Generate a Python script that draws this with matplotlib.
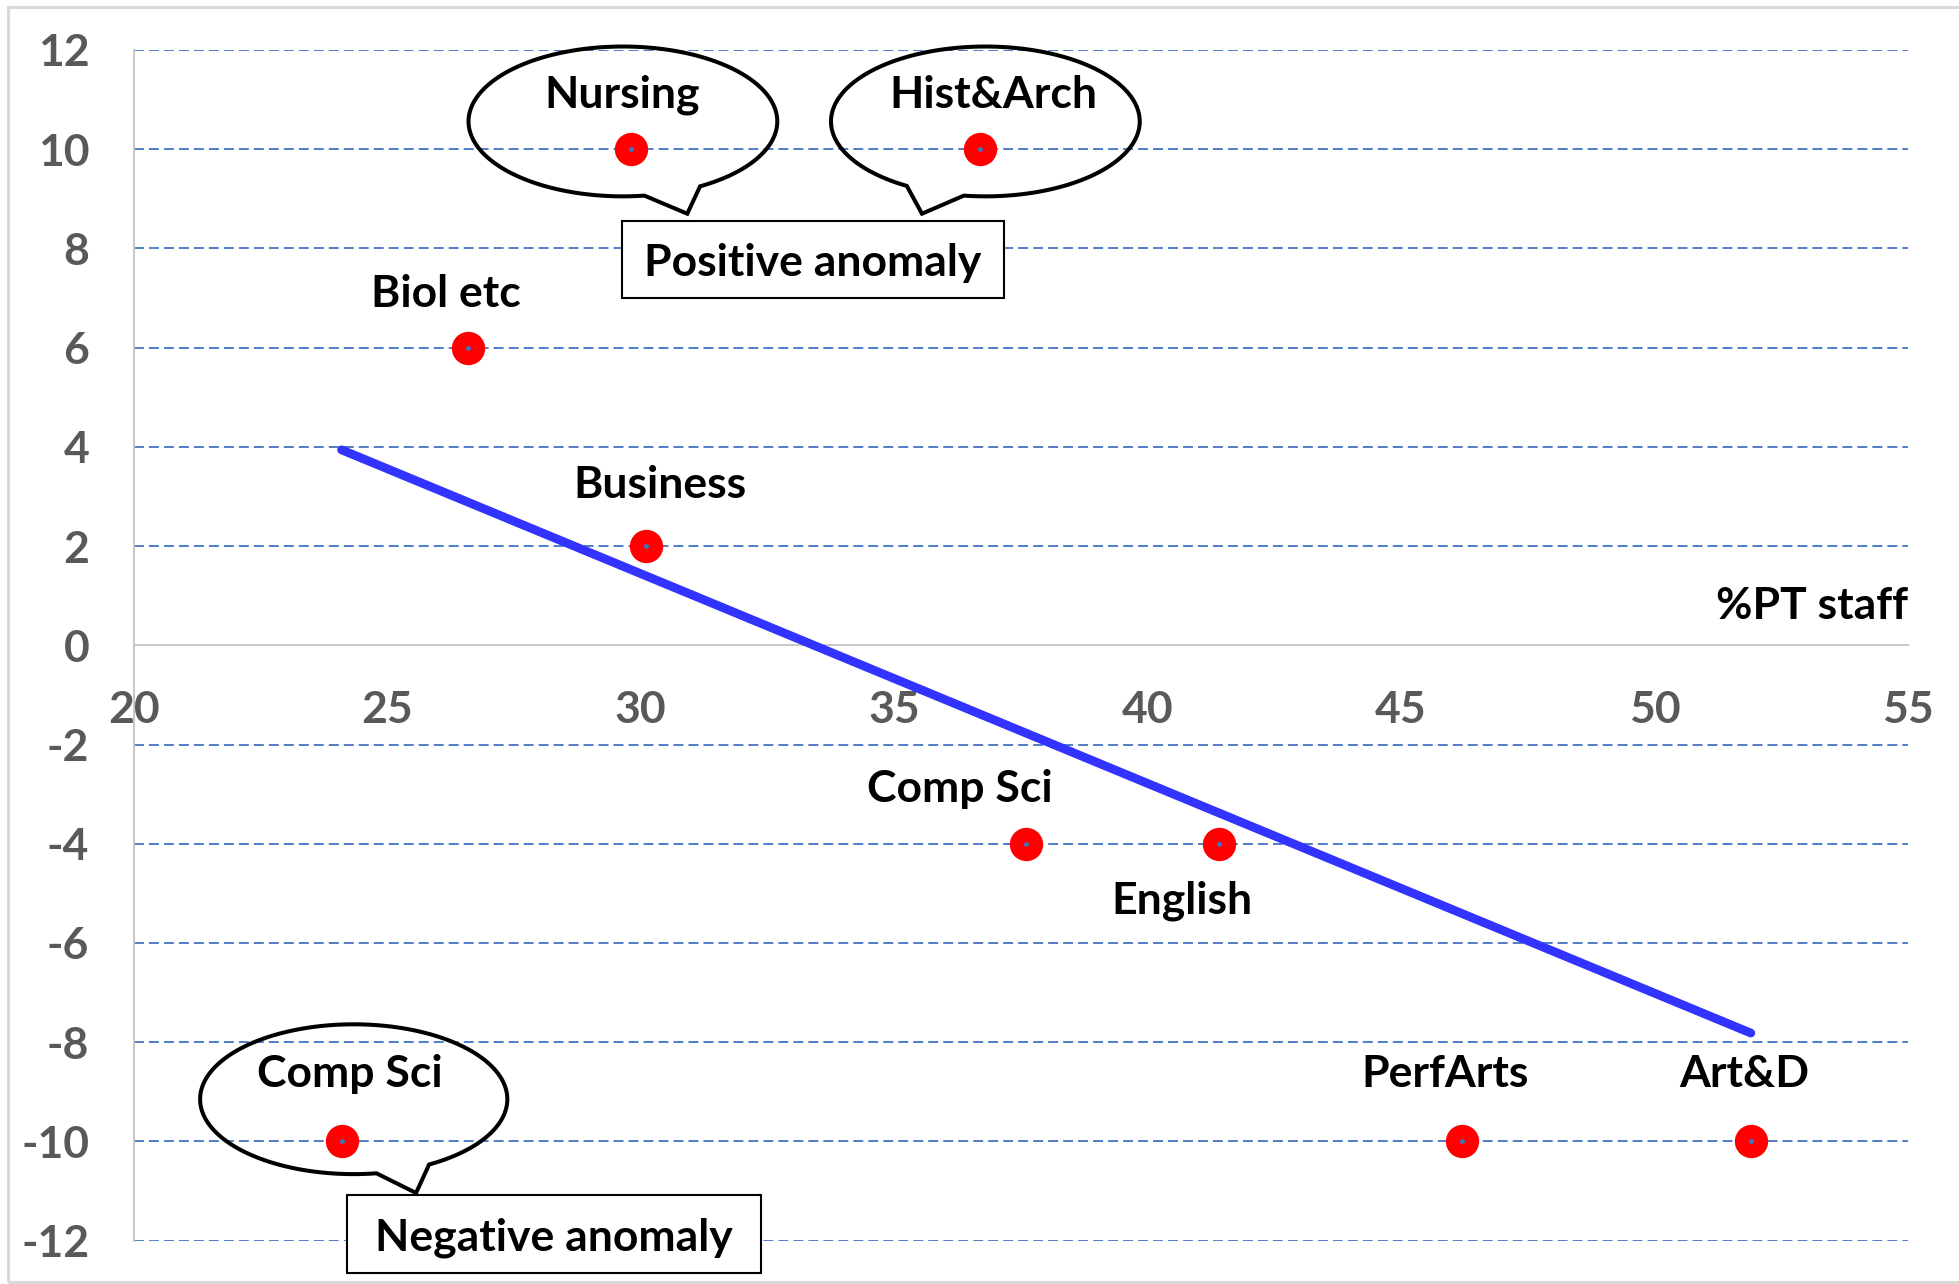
import numpy as np
import matplotlib
matplotlib.use("Agg")
import matplotlib.pyplot as plt
from matplotlib.patches import Polygon, Rectangle

plt.rcParams['font.family'] = ['Lato', 'DejaVu Sans']
plt.rcParams['font.weight'] = 'bold'
plt.rcParams['axes.unicode_minus'] = False

# data
depts = ["Nursing", "Hist&Arch", "Biol etc", "Business", "Comp Sci",
         "English", "Comp Sci", "PerfArts", "Art&D"]
pt_staff = [29.8, 36.7, 26.6, 30.1, 37.6, 41.4, 24.1, 46.2, 51.9]
anomaly = [10, 10, 6, 2, -4, -4, -10, -10, -10]
x_ticks = [20, 25, 30, 35, 40, 45, 50, 55]
y_ticks = [-12, -10, -8, -6, -4, -2, 0, 2, 4, 6, 8, 10, 12]

# label offsets from each point (data units)
label_dx = [-0.16, 0.26, -0.44, 0.28, -1.31, -0.72, 0.16, -0.34, -0.13]
label_dy = [1.10, 1.10, 1.09, 1.24, 1.10, -1.14, 1.36, 1.36, 1.36]

W, H = 1959, 1284
fig = plt.figure(figsize=(W / 100, H / 100), dpi=100)
ax = fig.add_axes([133.7 / W, 43.4 / H, (1908 - 133.7) / W, (1240.6 - 50) / H])

ax.set_xlim(20, 55)
ax.set_ylim(-12, 12)
ax.set_xticks(x_ticks)
ax.set_yticks(y_ticks)
ax.tick_params(length=0, labelsize=32, labelcolor='#595959')
ax.tick_params(axis='y', pad=32)
ax.tick_params(axis='x', pad=32)

for s in ['top', 'right']:
    ax.spines[s].set_visible(False)
ax.spines['bottom'].set_position(('data', 0))
for s in ['left', 'bottom']:
    ax.spines[s].set_color('#C8C8C8')
    ax.spines[s].set_linewidth(1.4)
    ax.spines[s].set_zorder(2)

ax.yaxis.grid(True, color='#4472C4', lw=1.3, linestyle=(0, (5.5, 2.8)), zorder=0)
ax.set_axisbelow(True)
for tick_val, gl in zip(y_ticks, ax.get_ygridlines()):
    if tick_val == 0:
        gl.set_visible(False)

# trendline (least squares)
slope, icpt = np.polyfit(pt_staff, anomaly, 1)
xs = np.array([min(pt_staff), max(pt_staff)])
ax.plot(xs, slope * xs + icpt, color='#3333FF', lw=6.3,
        solid_capstyle='round', zorder=3)

ax.plot(pt_staff, anomaly, 'o', color='red', ms=24, mec='none', zorder=4)
ax.plot(pt_staff, anomaly, 'o', color='#4472C4', ms=3.5, mec='none', zorder=5)

for name, x, y, dx, dy in zip(depts, pt_staff, anomaly, label_dx, label_dy):
    ax.text(x + dx, y + dy, name, ha='center', va='center',
            fontsize=32, fontweight='bold', color='black', zorder=6)

ax.text(55, 0.38, "%PT staff", ha='right', va='bottom',
        fontsize=32, fontweight='bold', color='black')


def bubble(cx, cy, w, h, a_left, a_right, tip):
    t = np.radians(np.linspace(a_right, a_left + 360, 300))
    pts = np.column_stack([cx + w / 2 * np.cos(t), cy + h / 2 * np.sin(t)])
    pts = np.vstack([pts, tip])
    ax.add_patch(Polygon(pts, closed=True, fill=False, ec='black', lw=2.9,
                         joinstyle='miter', clip_on=False, zorder=5))


bubble(29.65, 10.56, 6.09, 3.02, -82, -60, (30.92, 8.70))
bubble(36.80, 10.56, 6.09, 3.02, -120.6, -98, (35.55, 8.70))
bubble(24.34, -9.15, 6.06, 3.02, -81.5, -60.6, (25.57, -11.04))


def box(x0, x1, y0, y1, text):
    ax.add_patch(Rectangle((x0, y0), x1 - x0, y1 - y0, fc='white', ec='black',
                           lw=1.5, clip_on=False, zorder=5))
    ax.text((x0 + x1) / 2, (y0 + y1) / 2 - 0.07, text, ha='center', va='center',
            fontsize=32, fontweight='bold', color='black', zorder=6)


box(29.64, 37.16, 7.01, 8.55, "Positive anomaly")
box(24.21, 32.37, -12.65, -11.09, "Negative anomaly")

# chart area frame
fig.add_artist(Rectangle((8 / W, 2 / H), (W - 6) / W, (H - 9) / H,
                         transform=fig.transFigure, fill=False,
                         ec='#D9D9D9', lw=2.2))

fig.savefig("out.png", dpi=100)
